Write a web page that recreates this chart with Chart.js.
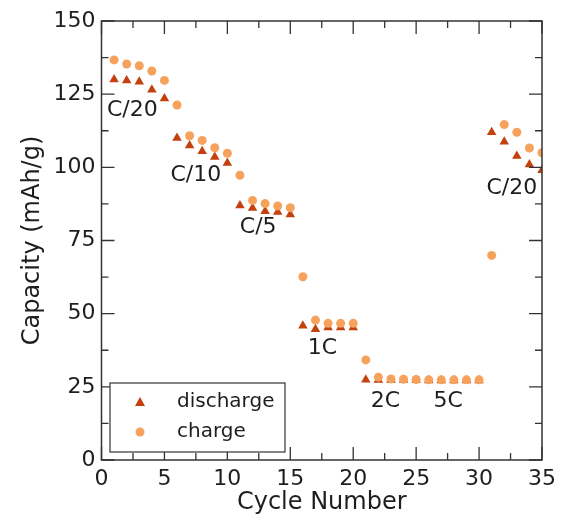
<!DOCTYPE html>
<html>
<head>
<meta charset="utf-8">
<script src="https://cdn.jsdelivr.net/npm/chart.js@4/dist/chart.umd.min.js"></script>
<style>
  html, body { margin: 0; padding: 0; background: #fff; }
  #wrap { width: 562px; height: 517px; }
</style>
</head>
<body>
<div id="wrap"><canvas id="capacityChart" width="562" height="517"></canvas></div>
<script>
const cycles = [1, 2, 3, 4, 5, 6, 7, 8, 9, 10, 11, 12, 13, 14, 15, 16, 17, 18, 19, 20,
                21, 22, 23, 24, 25, 26, 27, 28, 29, 30, 31, 32, 33, 34, 35];
const discharge = [130, 129.7, 129.2, 126.5, 123.5, 110, 107.5, 105.5, 103.5, 101.5,
                   87, 86.1, 85, 84.7, 83.9, 45.9, 44.7, 45.3, 45.3, 45.3,
                   27.4, 27.3, 27.3, 27.3, 27.3, 27.2, 27.2, 27.2, 27.2, 27.2,
                   112, 108.7, 103.9, 101, 99];
const charge = [136.7, 135.3, 134.7, 132.9, 129.7, 121.3, 110.8, 109.2, 106.7, 104.8,
                97.3, 88.7, 87.6, 86.8, 86.2, 62.6, 47.8, 46.7, 46.7, 46.7,
                34.2, 28.3, 27.7, 27.6, 27.5, 27.4, 27.4, 27.4, 27.4, 27.4,
                69.9, 114.6, 112, 106.6, 105];
const rateLabels = ['C/20', 'C/10', 'C/5', '1C', '2C', '5C', 'C/20'];
const yTicks = [0, 25, 50, 75, 100, 125, 150];
const xTicks = [0, 5, 10, 15, 20, 25, 30, 35];

const dischargeColor = '#c2410f';
const chargeColor = '#f7a25c';
const inkColor = '#1e1e1e';

// where each rate label sits, in data units
const labelAnchors = [[2.45, 119.4], [7.5, 97.3], [12.45, 79.4], [17.55, 38.3],
                      [22.55, 20], [27.55, 20], [32.6, 93]];

const framePlugin = {
    id: 'frame',
    afterDraw(chart) {
        const ctx = chart.ctx;
        const area = chart.chartArea;
        const xs = chart.scales.x;
        const ys = chart.scales.y;
        ctx.save();

        // axes box
        ctx.strokeStyle = '#333';
        ctx.lineWidth = 1.5;
        ctx.strokeRect(area.left, area.top, area.right - area.left, area.bottom - area.top);

        // inward ticks, major + minor, on all four sides
        ctx.lineWidth = 1.3;
        ctx.beginPath();
        for (let v = 0; v <= 150; v += 12.5) {
            const y = ys.getPixelForValue(v);
            const len = v % 25 === 0 ? 13 : 7;
            ctx.moveTo(area.left, y); ctx.lineTo(area.left + len, y);
            ctx.moveTo(area.right, y); ctx.lineTo(area.right - len, y);
        }
        for (let v = 0; v <= 35; v += 2.5) {
            const x = xs.getPixelForValue(v);
            const len = v % 5 === 0 ? 13 : 7;
            ctx.moveTo(x, area.bottom); ctx.lineTo(x, area.bottom - len);
            ctx.moveTo(x, area.top); ctx.lineTo(x, area.top + len);
        }
        ctx.stroke();

        // rate annotations
        ctx.fillStyle = inkColor;
        ctx.font = '22px "DejaVu Sans"';
        ctx.textAlign = 'center';
        ctx.textBaseline = 'middle';
        rateLabels.forEach((txt, i) => {
            const [dx, dy] = labelAnchors[i];
            ctx.fillText(txt, xs.getPixelForValue(dx), ys.getPixelForValue(dy));
        });

        // legend box
        const bx = 110, by = 383, bw = 175, bh = 69;
        ctx.fillStyle = '#fff';
        ctx.fillRect(bx, by, bw, bh);
        ctx.strokeStyle = '#333';
        ctx.lineWidth = 1.2;
        ctx.strokeRect(bx, by, bw, bh);

        const entries = [chart.data.datasets[1], chart.data.datasets[0]];
        entries.forEach((ds, i) => {
            const cy = by + 19 + i * 30;
            ctx.fillStyle = ds.pointBackgroundColor;
            ctx.beginPath();
            if (ds.pointStyle === 'triangle') {
                ctx.moveTo(140, cy - 5);
                ctx.lineTo(145, cy + 4);
                ctx.lineTo(135, cy + 4);
                ctx.closePath();
            } else {
                ctx.arc(140, cy, 4.5, 0, Math.PI * 2);
            }
            ctx.fill();
            ctx.fillStyle = inkColor;
            ctx.font = '20px "DejaVu Sans"';
            ctx.textAlign = 'left';
            ctx.fillText(ds.label, 177, cy);
        });
        ctx.restore();
    }
};

new Chart(document.getElementById('capacityChart'), {
    type: 'scatter',
    data: {
        datasets: [
            {
                label: 'charge',
                data: cycles.map((c, i) => ({ x: c, y: charge[i] })),
                pointStyle: 'circle',
                pointRadius: 4.5,
                pointBackgroundColor: chargeColor,
                pointBorderWidth: 0,
                clip: 0
            },
            {
                label: 'discharge',
                data: cycles.map((c, i) => ({ x: c, y: discharge[i] })),
                pointStyle: 'triangle',
                pointRadius: 5.5,
                pointBackgroundColor: dischargeColor,
                pointBorderWidth: 0,
                clip: 0
            }
        ]
    },
    options: {
        responsive: false,
        animation: false,
        layout: { padding: { top: 21, right: 20, left: 0, bottom: 0 } },
        plugins: {
            legend: { display: false },
            tooltip: { enabled: false }
        },
        scales: {
            x: {
                type: 'linear',
                min: 0,
                max: 35,
                afterBuildTicks: (scale) => { scale.ticks = xTicks.map(v => ({ value: v })); },
                afterFit: (scale) => { scale.height = 57; },
                grid: { display: false, drawTicks: false },
                border: { display: false },
                ticks: { padding: 6, color: inkColor, font: { family: 'DejaVu Sans', size: 22 } },
                title: {
                    display: true,
                    text: 'Cycle Number',
                    color: inkColor,
                    font: { family: 'DejaVu Sans', size: 24 },
                    padding: 0
                }
            },
            y: {
                type: 'linear',
                min: 0,
                max: 150,
                afterBuildTicks: (scale) => { scale.ticks = yTicks.map(v => ({ value: v })); },
                afterFit: (scale) => { scale.width = 101.5; },
                grid: { display: false, drawTicks: false },
                border: { display: false },
                ticks: { padding: 6, color: inkColor, font: { family: 'DejaVu Sans', size: 22 } },
                title: {
                    display: true,
                    text: 'Capacity (mAh/g)',
                    color: inkColor,
                    font: { family: 'DejaVu Sans', size: 24 },
                    padding: { top: 18, bottom: 0 }
                }
            }
        }
    },
    plugins: [framePlugin]
});
</script>
</body>
</html>
